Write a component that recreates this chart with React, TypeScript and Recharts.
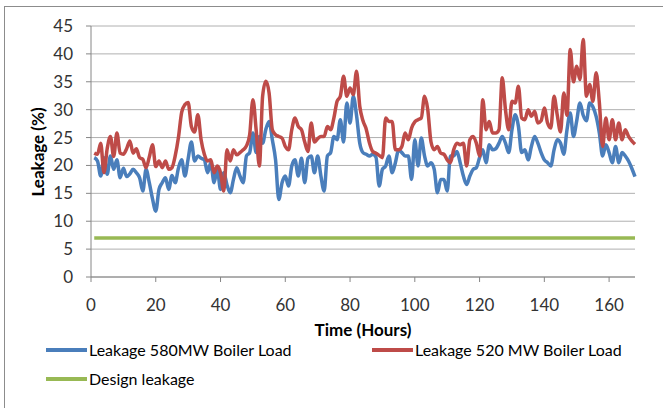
import {LineChart, Line, XAxis, YAxis, CartesianGrid} from 'recharts';

// leakage readings, one per hour (hour 1..168)
const leakage580 = [
    21.4, 20.8, 18.1, 21.4, 18.4, 21.7, 19.3, 21.0, 17.8, 19.5,
    18.0, 18.5, 19.3, 18.7, 17.8, 15.4, 19.3, 16.9, 14.0, 11.8,
    15.7, 16.9, 17.8, 15.7, 18.2, 16.9, 19.5, 21.0, 18.1, 21.2,
    24.2, 20.8, 21.7, 21.3, 21.0, 18.7, 20.5, 16.9, 19.3, 15.7,
    18.7, 16.5, 15.1, 17.5, 19.6, 18.1, 16.9, 21.7, 22.3, 25.8,
    22.3, 25.2, 24.0, 26.5, 27.9, 24.6, 21.0, 13.9, 16.9, 18.1,
    16.3, 19.9, 21.0, 18.1, 21.3, 16.9, 21.3, 21.7, 18.7, 21.7,
    18.1, 15.4, 21.7, 22.3, 25.2, 24.6, 28.2, 24.2, 31.2, 27.6,
    32.4, 29.0, 24.0, 22.3, 22.0, 21.7, 22.0, 21.5, 16.3, 19.3,
    19.9, 21.7, 18.7, 20.5, 22.8, 22.3, 21.7, 21.7, 17.5, 24.6,
    19.9, 24.9, 21.7, 19.9, 20.5, 19.3, 15.1, 17.5, 17.5, 15.4,
    21.7, 21.7, 22.5, 20.5, 18.1, 16.6, 18.1, 19.3, 19.6, 21.4,
    22.8, 20.5, 23.7, 22.8, 23.0, 24.0, 25.2, 24.0, 22.3, 26.4,
    29.1, 27.0, 22.3, 22.8, 21.0, 23.4, 25.2, 24.0, 22.3, 21.0,
    20.5, 19.9, 22.8, 24.6, 24.0, 22.0, 26.4, 29.4, 25.2, 28.0,
    31.2, 29.0, 28.0, 31.2, 30.5, 28.8, 25.8, 21.7, 23.7, 22.3,
    20.5, 23.4, 20.5, 22.3, 21.7, 20.8, 19.5, 18.0,
];

const leakage520 = [
    22.2, 22.0, 24.0, 18.7, 23.0, 25.2, 21.6, 25.8, 22.2, 22.0,
    23.0, 24.4, 22.2, 23.0, 21.4, 21.1, 19.6, 21.5, 23.7, 19.8,
    20.8, 19.6, 20.8, 19.3, 19.6, 21.7, 25.0, 29.5, 30.9, 31.3,
    27.0, 26.0, 29.1, 24.6, 22.0, 20.8, 21.0, 18.7, 19.9, 18.7,
    15.4, 22.8, 20.8, 22.8, 21.9, 22.3, 22.8, 23.5, 25.5, 31.8,
    26.4, 19.9, 32.4, 35.1, 33.0, 26.4, 25.5, 25.2, 24.9, 23.4,
    22.8, 26.4, 28.5, 27.0, 26.4, 24.2, 22.5, 27.6, 24.2, 24.8,
    25.2, 25.2, 27.0, 26.4, 28.5, 31.5, 32.4, 36.0, 32.4, 33.9,
    32.7, 36.9, 30.6, 28.0, 26.5, 24.0, 22.5, 22.2, 21.8, 21.4,
    28.5, 27.9, 27.9, 22.8, 22.8, 23.4, 25.8, 24.6, 26.7, 27.8,
    28.2, 28.5, 32.4, 30.0, 24.2, 22.8, 23.4, 22.2, 22.0, 21.0,
    20.5, 22.8, 24.0, 23.7, 24.0, 19.9, 24.6, 25.2, 24.0, 21.7,
    31.8, 26.4, 27.9, 25.8, 25.8, 26.4, 35.7, 30.0, 26.4, 31.5,
    31.2, 34.2, 28.5, 28.2, 30.0, 28.8, 29.7, 27.6, 28.0, 30.3,
    27.6, 26.7, 32.4, 29.0, 26.0, 33.0, 29.0, 40.8, 35.0, 37.8,
    35.4, 42.6, 32.4, 34.5, 31.5, 36.6, 31.2, 23.4, 28.5, 24.6,
    28.2, 24.6, 27.6, 24.6, 26.4, 25.2, 24.4, 23.8,
];

const designLeakage = 7;

const xTicks = [0, 20, 40, 60, 80, 100, 120, 140, 160];
const yTicks = [0, 5, 10, 15, 20, 25, 30, 35, 40, 45];

const BLUE = '#4A7EBB';
const RED = '#BE4B48';
const GREEN = '#98B954';
const FONT = 'Lato, "Open Sans", sans-serif';

const rows = leakage580.map((v, i) => ({
    hour: i + 1,
    l580: v,
    l520: leakage520[i],
    design: designLeakage,
}));

const legendItems = [
    {label: 'Leakage 580MW Boiler Load', color: BLUE, left: 46, top: 340},
    {label: 'Leakage 520 MW Boiler Load', color: RED, left: 372, top: 340},
    {label: 'Design leakage', color: GREEN, left: 46, top: 369},
];

export default function App() {
    return (
        <div style={{position: 'relative', width: 663, height: 408, fontFamily: FONT, overflow: 'hidden', background: '#fff'}}>
            <style>{'body{margin:0}'}</style>
            <div style={{position: 'absolute', left: 4, top: 6, width: 680, height: 420, border: '1.5px solid #8c8c8c'}} />
            <LineChart width={663} height={408} data={rows} margin={{top: 26, right: 28, left: 31, bottom: 101}}>
                <CartesianGrid vertical={false} stroke="#b0b0b0" />
                <XAxis
                    dataKey="hour"
                    type="number"
                    domain={[0, 168]}
                    ticks={xTicks}
                    height={30}
                    stroke="#868686"
                    tickSize={5}
                    tickMargin={17}
                    tick={{fill: '#333', fontSize: 17, fontFamily: FONT}}
                />
                <YAxis
                    domain={[0, 45]}
                    ticks={yTicks}
                    width={60}
                    stroke="#868686"
                    tickSize={5}
                    tickMargin={13}
                    tick={{fill: '#333', fontSize: 17, fontFamily: FONT}}
                />
                <Line type="linear" dataKey="design" stroke={GREEN} strokeWidth={3.5} dot={false} isAnimationActive={false} />
                <Line type="monotone" dataKey="l580" stroke={BLUE} strokeWidth={3.5} dot={false} isAnimationActive={false} />
                <Line type="monotone" dataKey="l520" stroke={RED} strokeWidth={3.5} dot={false} isAnimationActive={false} />
            </LineChart>

            {/* axis titles */}
            <div style={{position: 'absolute', left: 37, top: 152, transform: 'translate(-50%, -50%) rotate(-90deg)', fontWeight: 700, fontSize: 17, whiteSpace: 'nowrap', color: '#000'}}>
                Leakage (%)
            </div>
            <div style={{position: 'absolute', left: 363, top: 329, transform: 'translate(-50%, -50%)', fontWeight: 700, fontSize: 17, whiteSpace: 'nowrap', color: '#000'}}>
                Time (Hours)
            </div>

            {/* legend */}
            {legendItems.map((item) => (
                <div key={item.label} style={{position: 'absolute', left: item.left, top: item.top, display: 'flex', alignItems: 'center', fontSize: 16, color: '#000', whiteSpace: 'nowrap'}}>
                    <span style={{display: 'inline-block', width: 41, height: 4, background: item.color, marginRight: 2}} />
                    {item.label}
                </div>
            ))}
        </div>
    );
}
